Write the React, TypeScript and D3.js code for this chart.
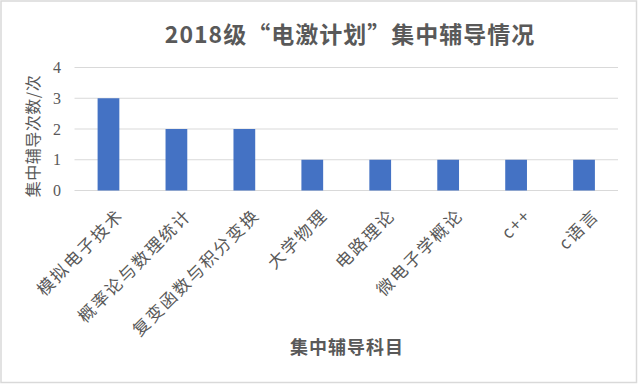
import React from "react";
import * as d3 from "d3";

const categories = ["模拟电子技术", "概率论与数理统计", "复变函数与积分变换", "大学物理", "电路理论", "微电子学概论", "c++", "c语言"];
const values = [3, 2, 2, 1, 1, 1, 1, 1];
const yTicks = [0, 1, 2, 3, 4];
const title = "2018级“电激计划”集中辅导情况";
const xTitle = "集中辅导科目";
const yTitle = "集中辅导次数/次";

const W = 638, H = 384;
const plot = { left: 74.5, right: 618, top: 67.5, bottom: 190.5 };
const CJK = "'Noto Sans CJK SC', 'Noto Sans', sans-serif";
const GREY = "#595959";

export default function App() {
  const x = d3.scaleBand<string>().domain(categories).range([plot.left, plot.right]).paddingInner(0.68).paddingOuter(0.34);
  const y = d3.scaleLinear().domain([0, 4]).range([plot.bottom, plot.top]);
  return (
    <svg width={W} height={H} style={{ position: "absolute", left: 0, top: 0, background: "#fff" }}>
      <rect x={1} y={1} width={W - 2.5} height={H - 2.5} fill="#fff" stroke="#d9d9d9" strokeWidth={1.5} />
      <text x={350} y={43} textAnchor="middle" fontFamily={CJK} fontWeight="bold" fontSize={23} letterSpacing={1} fill={GREY}>{title}</text>
      {yTicks.map((t) => (
        <g key={t}>
          <line x1={plot.left} x2={plot.right} y1={y(t)} y2={y(t)} stroke="#d9d9d9" strokeWidth={1} />
          <text x={61} y={y(t)} dy="0.35em" textAnchor="end" fontFamily="'Liberation Serif', serif" fontSize={16} fill={GREY}>{t}</text>
        </g>
      ))}
      {categories.map((c, i) => (
        <rect key={c} x={x(c)!} width={x.bandwidth()} y={y(values[i])} height={y(0) - y(values[i])} fill="#4472C4" />
      ))}
      {categories.map((c) => {
        const cx = x(c)! + x.bandwidth() / 2 + 5;
        const cy = 205;
        return (
          <text key={c} transform={`translate(${cx},${cy}) rotate(-45)`} textAnchor="end" dominantBaseline="hanging" fontFamily={CJK} fontSize={17} letterSpacing={2} fill={GREY}>{c}</text>
        );
      })}
      <text transform={`translate(39,136) rotate(-90)`} textAnchor="middle" fontFamily={CJK} fontSize={16} letterSpacing={0.5} fill={GREY}>{yTitle}</text>
      <text x={347} y={354} textAnchor="middle" fontFamily={CJK} fontWeight="bold" fontSize={18} letterSpacing={1} fill={GREY}>{xTitle}</text>
    </svg>
  );
}
